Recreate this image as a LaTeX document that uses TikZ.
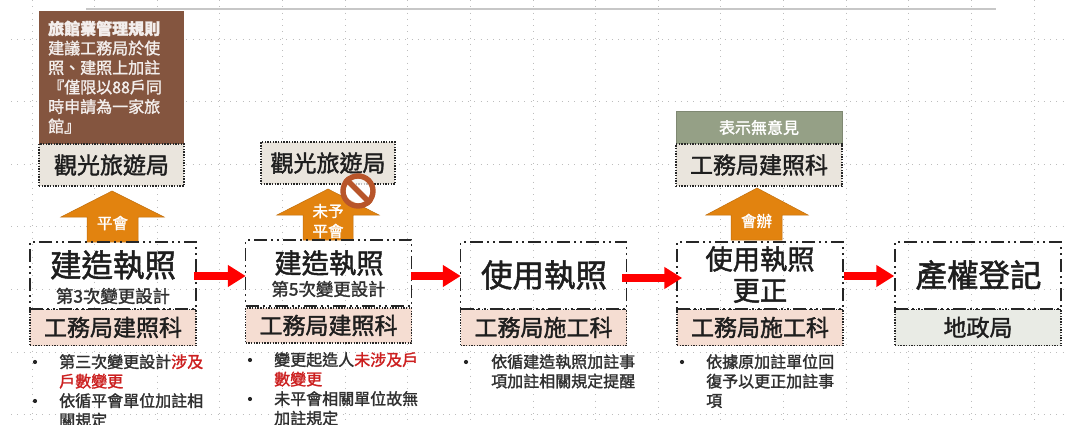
\documentclass[tikz,border=0pt]{standalone}
\usepackage{fontspec}
\setmainfont{Noto Sans CJK TC}[RawFeature={embolden=1.6}]
\usetikzlibrary{arrows.meta,calc}
\definecolor{brownbox}{HTML}{84553F}
\definecolor{beigebox}{HTML}{EAE5DD}
\definecolor{pinkbox}{HTML}{F5DDD2}
\definecolor{greybox}{HTML}{E9EBE5}
\definecolor{greenbox}{HTML}{95A086}
\definecolor{orangearrow}{HTML}{E2830F}
\definecolor{nosign}{HTML}{B8552A}
\definecolor{inktext}{HTML}{1E1E1E}
\definecolor{bodytext}{HTML}{303030}
\definecolor{redtext}{HTML}{CC1F1F}
\definecolor{gridgrey}{HTML}{BDBDBD}
\newcommand{\fs}[1]{\fontsize{#1}{#1}\selectfont}
\newcommand{\listfont}{\fontsize{16}{19.5}\selectfont}
\tikzset{
  x=1pt,y=-1pt,
  griddots/.style={gridgrey,line width=.8pt,dash pattern=on .9pt off 5.36pt},
  stagebox/.style={draw=black!85,line width=1.5pt,dash pattern=on 13pt off 4pt on 2pt off 4pt on 2pt off 4pt,minimum width=166pt,inner sep=0pt},
  officebox/.style={draw=black!85,line width=1.3pt,dash pattern=on 1.4pt off 1.3pt,inner sep=0pt,minimum width=166pt,text=inktext,font=\fs{23}},
  upblock/.style={fill=orangearrow,draw=orangearrow!85!black,line width=.5pt},
  upnote/.style={text=white,font=\fs{15.5},inner sep=0pt},
  redflow/.style={red,line width=8pt,-{Triangle[length=18pt,width=21pt]}},
  itemtext/.style={anchor=north west,align=left,inner sep=0pt,text=bodytext,font=\listfont},
  itemdot/.style={circle,fill=black!85,inner sep=0pt,minimum size=4.2pt},
  bigtitle/.style={inner sep=0pt,text=inktext,font=\fs{31.5}},
  midtitle/.style={inner sep=0pt,text=inktext,font=\fs{27.3}},
  subtitle/.style={inner sep=0pt,text=bodytext,font=\fs{17.4}},
}
\begin{document}
\begin{tikzpicture}
\useasboundingbox (0,0) rectangle (1066,425);
\fill[white] (0,0) rectangle (1066,425);
% grid
\foreach \k in {0,...,16}{\draw[griddots] ({32+62.62*\k},0) -- ({32+62.62*\k},425);}
\foreach \yy in {39,101.6,164.2,226.8,289.4,352,414.6}{\draw[griddots] (11,\yy) -- (1066,\yy);}
\draw[black!22,line width=1.3pt] (86,9) -- (996,9);

% top-left
\node[anchor=north west,fill=brownbox,minimum width=145pt,minimum height=133pt,inner sep=0pt] (rule) at (38.5,11) {};
\node[anchor=north west,align=left,inner sep=0pt,text=white!90!brownbox,font=\fontsize{16}{19.5}\selectfont] (ruletext) at (48,20.5)
 {\textbf{旅館業管理規則}\\建議工務局於使\\照、建照上加註\\『僅限以88戶同\\時申請為一家旅\\館』};
\node[officebox,fill=beigebox,minimum width=145pt,minimum height=42pt] (tour1) at (111.5,165) {觀光旅遊局};
\node[officebox,fill=beigebox,minimum width=134pt,minimum height=42pt] (tour2) at (328,163) {觀光旅遊局};
\node[draw=greenbox!85!black,line width=.8pt,fill=greenbox,minimum width=166pt,minimum height=33pt,inner sep=0pt,text=white,font=\fs{16}] (noopinion) at (759,127.5) {表示無意見};
\node[officebox,fill=beigebox,minimum height=42pt] (build3) at (759,165) {工務局建照科};

% up arrows
\draw[upblock] (112,191) -- (164,217) -- (138,217) -- (138,242) -- (87,242) -- (87,217) -- (61,217) -- cycle;
\draw[upblock] (328,189) -- (379,215) -- (353,215) -- (353,240) -- (303,240) -- (303,215) -- (277,215) -- cycle;
\draw[upblock] (757,188) -- (808,215) -- (782,215) -- (782,240) -- (731,240) -- (731,215) -- (706,215) -- cycle;
\node[upnote] (n1) at (112.5,223) {平會};
\node[upnote,align=center,font=\fontsize{15.5}{20}\selectfont] (n2) at (328,221) {未予\\平會};
\node[upnote] (n3) at (756.5,221) {會辦};

% no sign
\node[circle,draw=nosign,line width=5.4pt,fill=white,fill opacity=.7,draw opacity=1,minimum size=30pt,inner sep=0pt] (nosignring) at (358,191) {};
\draw[nosign,line width=5.4pt] (nosignring.135) -- (nosignring.-45);

% stages
\node[stagebox,minimum height=67pt] (sa) at (113,275.5) {};
\node[stagebox,minimum height=66pt] (sb) at (328.5,273) {};
\node[stagebox,minimum height=67pt] (sc) at (543.5,275.5) {};
\node[stagebox,minimum height=67pt] (sd) at (760,275.5) {};
\node[stagebox,minimum height=67pt] (se) at (978,275.5) {};
\node[bigtitle] (ta) at (113,265) {建造執照};
\node[subtitle] (ta2) at (113,296) {第3次變更設計};
\node[midtitle] (tb) at (329,263) {建造執照};
\node[subtitle] (tb2) at (328.5,289) {第5次變更設計};
\node[bigtitle] (tc) at (544,275) {使用執照};
\node[midtitle] (td) at (760,259) {使用執照};
\node[midtitle] (td2) at (760,291) {更正};
\node[bigtitle] (te) at (978.5,275) {產權登記};

% office boxes
\node[officebox,fill=pinkbox,minimum height=36pt] (oa) at (113,327.5) {工務局建照科};
\node[officebox,fill=pinkbox,minimum height=35pt] (ob) at (328.5,325.5) {工務局建照科};
\node[officebox,fill=pinkbox,minimum height=36pt] (oc) at (543.5,327.5) {工務局施工科};
\node[officebox,fill=pinkbox,minimum height=36pt] (od) at (760,327.5) {工務局施工科};
\node[officebox,fill=greybox,minimum height=36pt] (oe) at (978,327.5) {地政局};

% red flow arrows
\draw[redflow] ([xshift=-3pt,yshift=-.5pt]sa.east) -- ([xshift=1pt,yshift=-.5pt]sb.west |- sa.east);
\draw[redflow] ([xshift=-1pt,yshift=-3pt]sb.east) -- ([xshift=1pt,yshift=-3pt]sc.west |- sb.east);
\draw[redflow] ([xshift=-5pt,yshift=-2.5pt]sc.east) -- ([xshift=6pt,yshift=-2.5pt]sd.west);
\draw[redflow] ([yshift=-.5pt]sd.east) -- ([xshift=0pt,yshift=-.5pt]se.west);

% bullet lists
\node[itemdot] (da1) at (35,362) {};
\node[itemtext] (la1) at (59,354) {第三次變更設計\textcolor{redtext}{涉及}\\\textcolor{redtext}{戶數變更}};
\node[itemdot] (da2) at (35,401) {};
\node[itemtext] (la2) at (59,393) {依循平會單位加註相\\關規定};
\node[itemdot] (db1) at (250,360) {};
\node[itemtext] (lb1) at (274,352) {變更起造人\textcolor{redtext}{未涉及戶}\\\textcolor{redtext}{數變更}};
\node[itemdot] (db2) at (250,399) {};
\node[itemtext] (lb2) at (274,391) {未平會相關單位故無\\加註規定};
\node[itemdot] (dc1) at (466,362) {};
\node[itemtext] (lc1) at (491,354) {依循建造執照加註事\\項加註相關規定提醒};
\node[itemdot] (dd1) at (682,362) {};
\node[itemtext] (ld1) at (706,354) {依據原加註單位回\\復予以更正加註事\\項};
\end{tikzpicture}
\end{document}
